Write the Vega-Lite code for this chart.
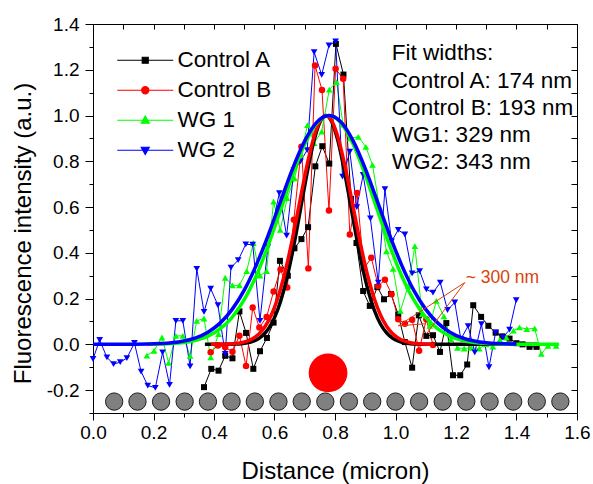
{
  "$schema": "https://vega.github.io/schema/vega-lite/v6.json",
  "autosize": "none",
  "width": 484,
  "height": 389,
  "padding": {"left": 93, "top": 24, "right": 16, "bottom": 71},
  "background": "white",
  "config": {
    "view": {"stroke": "black", "strokeWidth": 1},
    "font": "Liberation Sans",
    "axis": {"domain": false, "grid": false, "labelFlush": false, "labelBound": false, "labelOverlap": false, "labelFont": "Liberation Sans", "titleFont": "Liberation Sans", "labelColor": "black", "titleColor": "black", "tickColor": "black", "tickWidth": 1, "titleFontWeight": "normal"}
  },
  "datasets": {
    "pts": [
      {"s": "Control A", "x": 0.367, "y": -0.187}, {"s": "Control A", "x": 0.391, "y": -0.107}, {"s": "Control A", "x": 0.415, "y": -0.115}, {"s": "Control A", "x": 0.437, "y": -0.05}, {"s": "Control A", "x": 0.461, "y": -0.061}, {"s": "Control A", "x": 0.484, "y": 0.144}, {"s": "Control A", "x": 0.506, "y": 0.05}, {"s": "Control A", "x": 0.53, "y": -0.107}, {"s": "Control A", "x": 0.552, "y": -0.03}, {"s": "Control A", "x": 0.575, "y": 0.028}, {"s": "Control A", "x": 0.597, "y": 0.095}, {"s": "Control A", "x": 0.618, "y": 0.365}, {"s": "Control A", "x": 0.644, "y": 0.3}, {"s": "Control A", "x": 0.666, "y": 0.42}, {"s": "Control A", "x": 0.689, "y": 0.46}, {"s": "Control A", "x": 0.711, "y": 0.512}, {"s": "Control A", "x": 0.735, "y": 0.778}, {"s": "Control A", "x": 0.758, "y": 0.866}, {"s": "Control A", "x": 0.781, "y": 0.79}, {"s": "Control A", "x": 0.803, "y": 1.313}, {"s": "Control A", "x": 0.828, "y": 1.179}, {"s": "Control A", "x": 0.853, "y": 0.636}, {"s": "Control A", "x": 0.871, "y": 0.443}, {"s": "Control A", "x": 0.893, "y": 0.233}, {"s": "Control A", "x": 0.915, "y": 0.168}, {"s": "Control A", "x": 0.94, "y": 0.25}, {"s": "Control A", "x": 0.962, "y": 0.197}, {"s": "Control A", "x": 0.985, "y": 0.22}, {"s": "Control A", "x": 1.009, "y": 0.13}, {"s": "Control A", "x": 1.031, "y": 0.01}, {"s": "Control A", "x": 1.055, "y": -0.102}, {"s": "Control A", "x": 1.077, "y": 0.127}, {"s": "Control A", "x": 1.102, "y": 0.037}, {"s": "Control A", "x": 1.124, "y": 0.04}, {"s": "Control A", "x": 1.147, "y": -0.033}, {"s": "Control A", "x": 1.168, "y": 0.093}, {"s": "Control A", "x": 1.19, "y": -0.135}, {"s": "Control A", "x": 1.214, "y": -0.135}, {"s": "Control A", "x": 1.237, "y": -0.088}, {"s": "Control A", "x": 1.257, "y": 0.171}, {"s": "Control A", "x": 1.283, "y": 0.12}, {"s": "Control A", "x": 1.307, "y": 0.081}, {"s": "Control A", "x": 1.331, "y": 0.051}, {"s": "Control A", "x": 1.353, "y": 0.035}, {"s": "Control A", "x": 1.377, "y": 0.025}, {"s": "Control A", "x": 1.4, "y": 0.005}, {"s": "Control A", "x": 1.42, "y": 0.0}, {"s": "Control A", "x": 1.443, "y": -0.011}, {"s": "Control A", "x": 1.466, "y": -0.011},
      {"s": "Control B", "x": 0.389, "y": -0.035}, {"s": "Control B", "x": 0.413, "y": -0.005}, {"s": "Control B", "x": 0.437, "y": -0.013}, {"s": "Control B", "x": 0.461, "y": -0.032}, {"s": "Control B", "x": 0.484, "y": 0.038}, {"s": "Control B", "x": 0.506, "y": -0.095}, {"s": "Control B", "x": 0.528, "y": 0.161}, {"s": "Control B", "x": 0.55, "y": 0.074}, {"s": "Control B", "x": 0.574, "y": 0.12}, {"s": "Control B", "x": 0.597, "y": 0.231}, {"s": "Control B", "x": 0.62, "y": 0.327}, {"s": "Control B", "x": 0.642, "y": 0.248}, {"s": "Control B", "x": 0.664, "y": 0.545}, {"s": "Control B", "x": 0.689, "y": 0.864}, {"s": "Control B", "x": 0.712, "y": 0.332}, {"s": "Control B", "x": 0.734, "y": 1.219}, {"s": "Control B", "x": 0.757, "y": 1.112}, {"s": "Control B", "x": 0.78, "y": 0.585}, {"s": "Control B", "x": 0.802, "y": 1.204}, {"s": "Control B", "x": 0.827, "y": 1.161}, {"s": "Control B", "x": 0.849, "y": 0.48}, {"s": "Control B", "x": 0.873, "y": 0.662}, {"s": "Control B", "x": 0.895, "y": 0.33}, {"s": "Control B", "x": 0.92, "y": 0.378}, {"s": "Control B", "x": 0.943, "y": 0.255}, {"s": "Control B", "x": 0.965, "y": 0.282}, {"s": "Control B", "x": 0.987, "y": 0.219}, {"s": "Control B", "x": 1.009, "y": 0.11}, {"s": "Control B", "x": 1.031, "y": 0.09}, {"s": "Control B", "x": 1.055, "y": 0.108}, {"s": "Control B", "x": 1.078, "y": -0.028}, {"s": "Control B", "x": 1.102, "y": 0.11}, {"s": "Control B", "x": 1.124, "y": -0.003},
      {"s": "WG 1", "x": 0.178, "y": -0.049}, {"s": "WG 1", "x": 0.202, "y": -0.028}, {"s": "WG 1", "x": 0.228, "y": 0.03}, {"s": "WG 1", "x": 0.25, "y": -0.081}, {"s": "WG 1", "x": 0.274, "y": 0.037}, {"s": "WG 1", "x": 0.297, "y": 0.037}, {"s": "WG 1", "x": 0.321, "y": -0.05}, {"s": "WG 1", "x": 0.343, "y": 0.103}, {"s": "WG 1", "x": 0.367, "y": 0.113}, {"s": "WG 1", "x": 0.389, "y": -0.057}, {"s": "WG 1", "x": 0.415, "y": 0.045}, {"s": "WG 1", "x": 0.437, "y": 0.291}, {"s": "WG 1", "x": 0.461, "y": 0.258}, {"s": "WG 1", "x": 0.484, "y": 0.258}, {"s": "WG 1", "x": 0.508, "y": 0.32}, {"s": "WG 1", "x": 0.53, "y": 0.443}, {"s": "WG 1", "x": 0.552, "y": 0.3}, {"s": "WG 1", "x": 0.574, "y": 0.32}, {"s": "WG 1", "x": 0.597, "y": 0.624}, {"s": "WG 1", "x": 0.619, "y": 0.5}, {"s": "WG 1", "x": 0.642, "y": 0.639}, {"s": "WG 1", "x": 0.666, "y": 0.726}, {"s": "WG 1", "x": 0.687, "y": 0.83}, {"s": "WG 1", "x": 0.709, "y": 0.958}, {"s": "WG 1", "x": 0.731, "y": 0.88}, {"s": "WG 1", "x": 0.756, "y": 0.93}, {"s": "WG 1", "x": 0.781, "y": 1.113}, {"s": "WG 1", "x": 0.805, "y": 1.146}, {"s": "WG 1", "x": 0.827, "y": 0.96}, {"s": "WG 1", "x": 0.85, "y": 0.9}, {"s": "WG 1", "x": 0.877, "y": 0.907}, {"s": "WG 1", "x": 0.902, "y": 0.863}, {"s": "WG 1", "x": 0.924, "y": 0.784}, {"s": "WG 1", "x": 0.947, "y": 0.6}, {"s": "WG 1", "x": 0.97, "y": 0.407}, {"s": "WG 1", "x": 0.992, "y": 0.33}, {"s": "WG 1", "x": 1.016, "y": 0.146}, {"s": "WG 1", "x": 1.042, "y": 0.255}, {"s": "WG 1", "x": 1.064, "y": 0.429}, {"s": "WG 1", "x": 1.088, "y": 0.132}, {"s": "WG 1", "x": 1.113, "y": 0.081}, {"s": "WG 1", "x": 1.135, "y": 0.19}, {"s": "WG 1", "x": 1.16, "y": 0.122}, {"s": "WG 1", "x": 1.183, "y": 0.023}, {"s": "WG 1", "x": 1.205, "y": -0.015}, {"s": "WG 1", "x": 1.227, "y": -0.018}, {"s": "WG 1", "x": 1.25, "y": -0.015}, {"s": "WG 1", "x": 1.277, "y": -0.018}, {"s": "WG 1", "x": 1.3, "y": 0.0}, {"s": "WG 1", "x": 1.322, "y": -0.01}, {"s": "WG 1", "x": 1.345, "y": 0.02}, {"s": "WG 1", "x": 1.367, "y": 0.03}, {"s": "WG 1", "x": 1.39, "y": 0.06}, {"s": "WG 1", "x": 1.41, "y": 0.074}, {"s": "WG 1", "x": 1.434, "y": 0.067}, {"s": "WG 1", "x": 1.46, "y": 0.07}, {"s": "WG 1", "x": 1.482, "y": -0.042}, {"s": "WG 1", "x": 1.504, "y": -0.006}, {"s": "WG 1", "x": 1.531, "y": -0.006},
      {"s": "WG 2", "x": 0.0, "y": -0.064}, {"s": "WG 2", "x": 0.022, "y": 0.019}, {"s": "WG 2", "x": 0.046, "y": -0.057}, {"s": "WG 2", "x": 0.068, "y": -0.086}, {"s": "WG 2", "x": 0.09, "y": -0.078}, {"s": "WG 2", "x": 0.112, "y": -0.06}, {"s": "WG 2", "x": 0.137, "y": 0.006}, {"s": "WG 2", "x": 0.159, "y": -0.119}, {"s": "WG 2", "x": 0.181, "y": -0.18}, {"s": "WG 2", "x": 0.206, "y": -0.19}, {"s": "WG 2", "x": 0.23, "y": -0.035}, {"s": "WG 2", "x": 0.253, "y": -0.177}, {"s": "WG 2", "x": 0.274, "y": 0.103}, {"s": "WG 2", "x": 0.297, "y": 0.103}, {"s": "WG 2", "x": 0.321, "y": -0.096}, {"s": "WG 2", "x": 0.343, "y": 0.33}, {"s": "WG 2", "x": 0.367, "y": 0.142}, {"s": "WG 2", "x": 0.389, "y": 0.243}, {"s": "WG 2", "x": 0.413, "y": 0.171}, {"s": "WG 2", "x": 0.437, "y": -0.042}, {"s": "WG 2", "x": 0.456, "y": 0.335}, {"s": "WG 2", "x": 0.48, "y": 0.368}, {"s": "WG 2", "x": 0.505, "y": 0.437}, {"s": "WG 2", "x": 0.528, "y": 0.436}, {"s": "WG 2", "x": 0.552, "y": 0.103}, {"s": "WG 2", "x": 0.578, "y": 0.425}, {"s": "WG 2", "x": 0.616, "y": 0.661}, {"s": "WG 2", "x": 0.64, "y": 0.475}, {"s": "WG 2", "x": 0.664, "y": 0.76}, {"s": "WG 2", "x": 0.686, "y": 0.8}, {"s": "WG 2", "x": 0.708, "y": 0.849}, {"s": "WG 2", "x": 0.731, "y": 1.277}, {"s": "WG 2", "x": 0.756, "y": 1.178}, {"s": "WG 2", "x": 0.78, "y": 1.306}, {"s": "WG 2", "x": 0.802, "y": 1.324}, {"s": "WG 2", "x": 0.825, "y": 0.733}, {"s": "WG 2", "x": 0.849, "y": 0.842}, {"s": "WG 2", "x": 0.872, "y": 0.6}, {"s": "WG 2", "x": 0.893, "y": 0.74}, {"s": "WG 2", "x": 0.917, "y": 0.55}, {"s": "WG 2", "x": 0.943, "y": 0.27}, {"s": "WG 2", "x": 0.965, "y": 0.678}, {"s": "WG 2", "x": 0.987, "y": 0.45}, {"s": "WG 2", "x": 1.009, "y": 0.5}, {"s": "WG 2", "x": 1.031, "y": 0.48}, {"s": "WG 2", "x": 1.055, "y": 0.31}, {"s": "WG 2", "x": 1.08, "y": 0.32}, {"s": "WG 2", "x": 1.102, "y": 0.24}, {"s": "WG 2", "x": 1.124, "y": 0.226}, {"s": "WG 2", "x": 1.148, "y": 0.27}, {"s": "WG 2", "x": 1.172, "y": 0.15}, {"s": "WG 2", "x": 1.196, "y": 0.183}, {"s": "WG 2", "x": 1.216, "y": 0.023}, {"s": "WG 2", "x": 1.24, "y": 0.08}, {"s": "WG 2", "x": 1.262, "y": -0.035}, {"s": "WG 2", "x": 1.284, "y": 0.088}, {"s": "WG 2", "x": 1.309, "y": -0.1}, {"s": "WG 2", "x": 1.331, "y": 0.052}, {"s": "WG 2", "x": 1.355, "y": 0.03}, {"s": "WG 2", "x": 1.377, "y": 0.064}, {"s": "WG 2", "x": 1.399, "y": 0.193}
    ],
    "fit": [
      {"s": "Control A", "x": 0.37, "y": 0}, {"s": "Control A", "x": 0.43, "y": 0.0002}, {"s": "Control A", "x": 0.47, "y": 0.0012}, {"s": "Control A", "x": 0.49, "y": 0.0029}, {"s": "Control A", "x": 0.51, "y": 0.0066}, {"s": "Control A", "x": 0.53, "y": 0.0138}, {"s": "Control A", "x": 0.55, "y": 0.0273}, {"s": "Control A", "x": 0.57, "y": 0.051}, {"s": "Control A", "x": 0.59, "y": 0.09}, {"s": "Control A", "x": 0.61, "y": 0.149}, {"s": "Control A", "x": 0.63, "y": 0.233}, {"s": "Control A", "x": 0.65, "y": 0.343}, {"s": "Control A", "x": 0.67, "y": 0.475}, {"s": "Control A", "x": 0.69, "y": 0.621}, {"s": "Control A", "x": 0.71, "y": 0.765}, {"s": "Control A", "x": 0.73, "y": 0.888}, {"s": "Control A", "x": 0.75, "y": 0.971}, {"s": "Control A", "x": 0.77, "y": 1.0}, {"s": "Control A", "x": 0.79, "y": 0.971}, {"s": "Control A", "x": 0.81, "y": 0.888}, {"s": "Control A", "x": 0.83, "y": 0.765}, {"s": "Control A", "x": 0.85, "y": 0.621}, {"s": "Control A", "x": 0.87, "y": 0.475}, {"s": "Control A", "x": 0.89, "y": 0.343}, {"s": "Control A", "x": 0.91, "y": 0.233}, {"s": "Control A", "x": 0.93, "y": 0.149}, {"s": "Control A", "x": 0.95, "y": 0.09}, {"s": "Control A", "x": 0.97, "y": 0.051}, {"s": "Control A", "x": 0.99, "y": 0.0273}, {"s": "Control A", "x": 1.01, "y": 0.0138}, {"s": "Control A", "x": 1.03, "y": 0.0066}, {"s": "Control A", "x": 1.05, "y": 0.0029}, {"s": "Control A", "x": 1.07, "y": 0.0012}, {"s": "Control A", "x": 1.11, "y": 0.0002}, {"s": "Control A", "x": 1.2, "y": 0}, {"s": "Control A", "x": 1.47, "y": 0},
      {"s": "Control B", "x": 0.39, "y": 0.0001}, {"s": "Control B", "x": 0.43, "y": 0.0007}, {"s": "Control B", "x": 0.45, "y": 0.0016}, {"s": "Control B", "x": 0.47, "y": 0.0034}, {"s": "Control B", "x": 0.49, "y": 0.0071}, {"s": "Control B", "x": 0.51, "y": 0.014}, {"s": "Control B", "x": 0.53, "y": 0.0264}, {"s": "Control B", "x": 0.55, "y": 0.047}, {"s": "Control B", "x": 0.57, "y": 0.08}, {"s": "Control B", "x": 0.59, "y": 0.129}, {"s": "Control B", "x": 0.61, "y": 0.199}, {"s": "Control B", "x": 0.63, "y": 0.29}, {"s": "Control B", "x": 0.65, "y": 0.403}, {"s": "Control B", "x": 0.67, "y": 0.532}, {"s": "Control B", "x": 0.69, "y": 0.668}, {"s": "Control B", "x": 0.71, "y": 0.797}, {"s": "Control B", "x": 0.73, "y": 0.904}, {"s": "Control B", "x": 0.75, "y": 0.975}, {"s": "Control B", "x": 0.77, "y": 1.0}, {"s": "Control B", "x": 0.79, "y": 0.975}, {"s": "Control B", "x": 0.81, "y": 0.904}, {"s": "Control B", "x": 0.83, "y": 0.797}, {"s": "Control B", "x": 0.85, "y": 0.668}, {"s": "Control B", "x": 0.87, "y": 0.532}, {"s": "Control B", "x": 0.89, "y": 0.403}, {"s": "Control B", "x": 0.91, "y": 0.29}, {"s": "Control B", "x": 0.93, "y": 0.199}, {"s": "Control B", "x": 0.95, "y": 0.129}, {"s": "Control B", "x": 0.97, "y": 0.08}, {"s": "Control B", "x": 0.99, "y": 0.047}, {"s": "Control B", "x": 1.01, "y": 0.0264}, {"s": "Control B", "x": 1.03, "y": 0.014}, {"s": "Control B", "x": 1.05, "y": 0.0071}, {"s": "Control B", "x": 1.07, "y": 0.0034}, {"s": "Control B", "x": 1.09, "y": 0.0016}, {"s": "Control B", "x": 1.11, "y": 0.0007}, {"s": "Control B", "x": 1.13, "y": 0.0003},
      {"s": "WG 1", "x": 0.18, "y": 0.0006}, {"s": "WG 1", "x": 0.22, "y": 0.0015}, {"s": "WG 1", "x": 0.26, "y": 0.0036}, {"s": "WG 1", "x": 0.3, "y": 0.0082}, {"s": "WG 1", "x": 0.34, "y": 0.0177}, {"s": "WG 1", "x": 0.38, "y": 0.0357}, {"s": "WG 1", "x": 0.42, "y": 0.0672}, {"s": "WG 1", "x": 0.46, "y": 0.118}, {"s": "WG 1", "x": 0.5, "y": 0.195}, {"s": "WG 1", "x": 0.54, "y": 0.301}, {"s": "WG 1", "x": 0.58, "y": 0.435}, {"s": "WG 1", "x": 0.62, "y": 0.587}, {"s": "WG 1", "x": 0.66, "y": 0.741}, {"s": "WG 1", "x": 0.7, "y": 0.875}, {"s": "WG 1", "x": 0.74, "y": 0.967}, {"s": "WG 1", "x": 0.78, "y": 1.0}, {"s": "WG 1", "x": 0.82, "y": 0.967}, {"s": "WG 1", "x": 0.86, "y": 0.875}, {"s": "WG 1", "x": 0.9, "y": 0.741}, {"s": "WG 1", "x": 0.94, "y": 0.587}, {"s": "WG 1", "x": 0.98, "y": 0.435}, {"s": "WG 1", "x": 1.02, "y": 0.301}, {"s": "WG 1", "x": 1.06, "y": 0.195}, {"s": "WG 1", "x": 1.1, "y": 0.118}, {"s": "WG 1", "x": 1.14, "y": 0.0672}, {"s": "WG 1", "x": 1.18, "y": 0.0357}, {"s": "WG 1", "x": 1.22, "y": 0.0177}, {"s": "WG 1", "x": 1.26, "y": 0.0082}, {"s": "WG 1", "x": 1.3, "y": 0.0036}, {"s": "WG 1", "x": 1.34, "y": 0.0015}, {"s": "WG 1", "x": 1.38, "y": 0.0006}, {"s": "WG 1", "x": 1.54, "y": 0},
      {"s": "WG 2", "x": 0.0, "y": 0}, {"s": "WG 2", "x": 0.1, "y": 0.0002}, {"s": "WG 2", "x": 0.14, "y": 0.0005}, {"s": "WG 2", "x": 0.18, "y": 0.0014}, {"s": "WG 2", "x": 0.22, "y": 0.0032}, {"s": "WG 2", "x": 0.26, "y": 0.007}, {"s": "WG 2", "x": 0.3, "y": 0.0146}, {"s": "WG 2", "x": 0.34, "y": 0.0287}, {"s": "WG 2", "x": 0.38, "y": 0.0531}, {"s": "WG 2", "x": 0.42, "y": 0.0927}, {"s": "WG 2", "x": 0.46, "y": 0.153}, {"s": "WG 2", "x": 0.5, "y": 0.237}, {"s": "WG 2", "x": 0.54, "y": 0.3475}, {"s": "WG 2", "x": 0.58, "y": 0.48}, {"s": "WG 2", "x": 0.62, "y": 0.625}, {"s": "WG 2", "x": 0.66, "y": 0.768}, {"s": "WG 2", "x": 0.7, "y": 0.889}, {"s": "WG 2", "x": 0.74, "y": 0.971}, {"s": "WG 2", "x": 0.78, "y": 1.0}, {"s": "WG 2", "x": 0.82, "y": 0.971}, {"s": "WG 2", "x": 0.86, "y": 0.889}, {"s": "WG 2", "x": 0.9, "y": 0.768}, {"s": "WG 2", "x": 0.94, "y": 0.625}, {"s": "WG 2", "x": 0.98, "y": 0.48}, {"s": "WG 2", "x": 1.02, "y": 0.3475}, {"s": "WG 2", "x": 1.06, "y": 0.237}, {"s": "WG 2", "x": 1.1, "y": 0.153}, {"s": "WG 2", "x": 1.14, "y": 0.0927}, {"s": "WG 2", "x": 1.18, "y": 0.0531}, {"s": "WG 2", "x": 1.22, "y": 0.0287}, {"s": "WG 2", "x": 1.26, "y": 0.0146}, {"s": "WG 2", "x": 1.3, "y": 0.007}, {"s": "WG 2", "x": 1.34, "y": 0.0032}, {"s": "WG 2", "x": 1.38, "y": 0.0014}, {"s": "WG 2", "x": 1.4, "y": 0.001}
    ],
    "beads": [
      {"x": 0.07, "y": -0.25}, {"x": 0.147, "y": -0.25}, {"x": 0.225, "y": -0.25}, {"x": 0.303, "y": -0.25}, {"x": 0.38, "y": -0.25}, {"x": 0.458, "y": -0.25}, {"x": 0.535, "y": -0.25}, {"x": 0.613, "y": -0.25}, {"x": 0.69, "y": -0.25}, {"x": 0.768, "y": -0.25}, {"x": 0.846, "y": -0.25}, {"x": 0.923, "y": -0.25}, {"x": 1.0, "y": -0.25}, {"x": 1.078, "y": -0.25}, {"x": 1.156, "y": -0.25}, {"x": 1.234, "y": -0.25}, {"x": 1.311, "y": -0.25}, {"x": 1.389, "y": -0.25}, {"x": 1.467, "y": -0.25}, {"x": 1.545, "y": -0.25}
    ],
    "spot": [{"x": 0.777, "y": -0.125}],
    "arrows": [
      {"x": 1.229, "y": 0.27, "x2": 1.009, "y2": 0.081},
      {"x": 1.229, "y": 0.27, "x2": 1.102, "y2": 0.045},
      {"x": 1.009, "y": 0.081, "x2": 1.10, "y2": 0.09}
    ]
  },
  "resolve": {"axis": {"x": "independent", "y": "independent"}},
  "layer": [
    {
      "data": {"name": "beads"},
      "mark": {"type": "point", "filled": true, "fill": "#808080", "stroke": "#1a1a1a", "strokeWidth": 1, "size": 300, "opacity": 1},
      "encoding": {
        "x": {"field": "x", "type": "quantitative", "scale": {"domain": [0, 1.6], "nice": false, "zero": false, "padding": 0},
          "axis": {"orient": "bottom", "values": [0, 0.2, 0.4, 0.6, 0.8, 1, 1.2, 1.4, 1.5999], "labelExpr": "format(datum.value, '.1f')", "tickSize": 7, "labelFontSize": 19, "labelPadding": 3, "title": "Distance (micron)", "titleFontSize": 24, "titlePadding": 17}},
        "y": {"field": "y", "type": "quantitative", "scale": {"domain": [-0.3, 1.4], "nice": false, "zero": false, "padding": 0},
          "axis": {"orient": "left", "values": [-0.2, 0, 0.2, 0.4, 0.6, 0.8, 1, 1.2, 1.4], "labelExpr": "replace(format(datum.value, '.1f'), '\u2212', '-')", "tickSize": 8, "labelFontSize": 19, "labelPadding": 6, "title": "Fluorescence intensity (a.u.)", "titleFontSize": 24, "titlePadding": 11, "titleY": 209}}
      }
    },
    {
      "data": {"name": "spot"},
      "mark": {"type": "point", "filled": true, "color": "#ff0000", "size": 1500, "opacity": 1},
      "encoding": {
        "x": {"field": "x", "type": "quantitative", "scale": {"domain": [0, 1.6], "nice": false, "zero": false, "padding": 0}, "axis": {"orient": "bottom", "values": [0.1, 0.3, 0.5, 0.7, 0.9, 1.1, 1.3, 1.5], "tickSize": 4, "labels": false, "title": null}},
        "y": {"field": "y", "type": "quantitative", "scale": {"domain": [-0.3, 1.4], "nice": false, "zero": false, "padding": 0}, "axis": {"orient": "left", "values": [-0.3, -0.1, 0.1, 0.3, 0.5, 0.7, 0.9, 1.1, 1.3], "tickSize": 4, "labels": false, "title": null}}
      }
    },
    {
      "data": {"name": "pts"},
      "mark": {"type": "line", "strokeWidth": 1},
      "encoding": {
        "x": {"field": "x", "type": "quantitative", "scale": {"domain": [0, 1.6], "nice": false, "zero": false, "padding": 0}, "axis": {"orient": "top", "values": [0, 0.1, 0.2, 0.3, 0.4, 0.5, 0.6, 0.7, 0.8, 0.9, 1, 1.1, 1.2, 1.3, 1.4, 1.5, 1.5999], "tickSize": -5, "labels": false, "title": null}},
        "y": {"field": "y", "type": "quantitative", "scale": {"domain": [-0.3, 1.4], "nice": false, "zero": false, "padding": 0}, "axis": {"orient": "right", "values": [-0.3, -0.2, -0.1, 0, 0.1, 0.2, 0.3, 0.4, 0.5, 0.6, 0.7, 0.8, 0.9, 1, 1.1, 1.2, 1.3, 1.4], "tickSize": -6, "labels": false, "title": null}},
        "color": {"field": "s", "type": "nominal",
          "scale": {"domain": ["Control A", "Control B", "WG 1", "WG 2"], "range": ["#000000", "#ff0000", "#00ff00", "#0000ff"]},
          "legend": {"orient": "none", "legendX": 41, "legendY": 25, "title": null, "padding": 0, "symbolSize": 400, "labelFont": "Liberation Sans", "labelFontSize": 22.5, "labelColor": "black", "labelOffset": 21, "rowPadding": 7,
            "encode": {"symbols": {"update": {
              "shape": {"signal": "datum.value === 'Control A' ? 'M-2.8,0H2.8M-0.3,-0.3H0.3V0.3H-0.3Z' : datum.value === 'Control B' ? 'M-2.8,0H2.8M0.36,0A0.36,0.36,0,1,1,-0.36,0A0.36,0.36,0,1,1,0.36,0Z' : datum.value === 'WG 1' ? 'M-2.8,0H2.8M0,-0.42L0.4,0.3L-0.4,0.3Z' : 'M-2.8,0H2.8M0,0.42L0.4,-0.3L-0.4,-0.3Z'"},
              "fill": {"scale": "color", "field": "value"},
              "stroke": {"scale": "color", "field": "value"},
              "strokeWidth": {"value": 1.2},
              "opacity": {"value": 1}
            }}}}
        }
      }
    },
    {
      "data": {"name": "pts"},
      "transform": [{"filter": "datum.s === 'Control A'"}],
      "mark": {"type": "point", "filled": true, "shape": "square", "color": "#000000", "size": 36, "opacity": 1},
      "encoding": {
        "x": {"field": "x", "type": "quantitative", "axis": null},
        "y": {"field": "y", "type": "quantitative", "axis": null}
      }
    },
    {
      "data": {"name": "pts"},
      "transform": [{"filter": "datum.s === 'Control B'"}],
      "mark": {"type": "point", "filled": true, "shape": "circle", "color": "#ff0000", "size": 42, "opacity": 1},
      "encoding": {
        "x": {"field": "x", "type": "quantitative", "axis": null},
        "y": {"field": "y", "type": "quantitative", "axis": null}
      }
    },
    {
      "data": {"name": "pts"},
      "transform": [{"filter": "datum.s === 'WG 1'"}],
      "mark": {"type": "point", "filled": true, "shape": "triangle-up", "color": "#00ff00", "size": 45, "opacity": 1},
      "encoding": {
        "x": {"field": "x", "type": "quantitative", "axis": null},
        "y": {"field": "y", "type": "quantitative", "axis": null}
      }
    },
    {
      "data": {"name": "pts"},
      "transform": [{"filter": "datum.s === 'WG 2'"}],
      "mark": {"type": "point", "filled": true, "shape": "triangle-down", "color": "#0000ff", "size": 45, "opacity": 1},
      "encoding": {
        "x": {"field": "x", "type": "quantitative", "axis": null},
        "y": {"field": "y", "type": "quantitative", "axis": null}
      }
    },
    {
      "data": {"name": "fit"},
      "mark": {"type": "line", "strokeWidth": 3.5, "interpolate": "monotone"},
      "encoding": {
        "x": {"field": "x", "type": "quantitative", "axis": null},
        "y": {"field": "y", "type": "quantitative", "axis": null},
        "color": {"field": "s", "type": "nominal"}
      }
    },
    {
      "data": {"name": "arrows"},
      "mark": {"type": "rule", "color": "#d9420b", "strokeWidth": 1},
      "encoding": {
        "x": {"field": "x", "type": "quantitative", "axis": null},
        "y": {"field": "y", "type": "quantitative", "axis": null},
        "x2": {"field": "x2"},
        "y2": {"field": "y2"}
      }
    },
    {
      "data": {"values": [{}]},
      "mark": {"type": "text", "text": "~ 300 nm", "font": "Liberation Sans", "fontSize": 17.5, "color": "#d9420b", "align": "left", "baseline": "middle"},
      "encoding": {
        "x": {"datum": 1.232, "type": "quantitative", "axis": null},
        "y": {"datum": 0.29, "type": "quantitative", "axis": null}
      }
    },
    {
      "data": {"values": [{}]},
      "mark": {"type": "text", "text": ["Fit widths:", "Control A: 174 nm", "Control B: 193 nm", "WG1: 329 nm", "WG2: 343 nm"], "font": "Liberation Sans", "fontSize": 22.5, "lineHeight": 27.3, "color": "black", "align": "left", "baseline": "middle"},
      "encoding": {
        "x": {"datum": 0.988, "type": "quantitative", "axis": null},
        "y": {"datum": 1.272, "type": "quantitative", "axis": null}
      }
    }
  ]
}
